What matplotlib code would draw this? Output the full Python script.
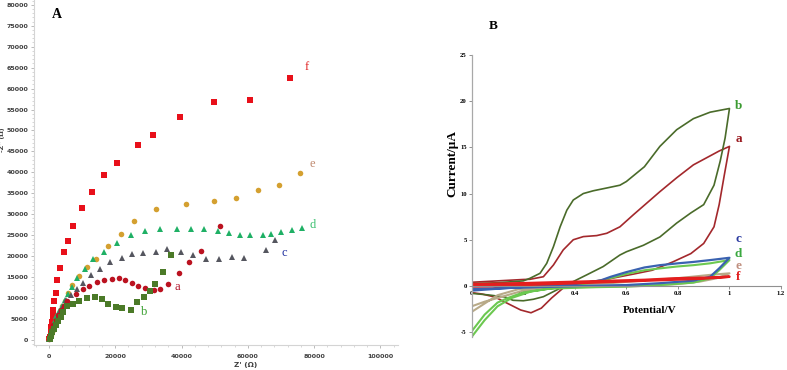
import matplotlib
matplotlib.use("Agg")
import matplotlib.pyplot as plt
from matplotlib.ticker import MultipleLocator

# --- Panel A: Nyquist data (Z', -Z'' in ohm) ---
f_zre = [100, 300, 500, 700, 900, 1100, 1300, 1600, 2000, 2500, 3400, 4600, 5800, 7400,
         10100, 13000, 16700, 20400, 27000, 31400, 39600, 49900, 60700, 72800]
f_zim = [200, 800, 2000, 3200, 4400, 5600, 7200, 9200, 11300, 14300, 17100, 21000, 23700, 27200,
         31400, 35400, 39400, 42300, 46500, 49000, 53200, 56700, 57200, 62500]

e_zre = [100, 500, 1100, 1800, 2500, 3300, 4000, 4800, 5800, 6900, 9100, 11500, 14300, 17800,
         21700, 25700, 32400, 41400, 49900, 56500, 63200, 69300, 75800]
e_zim = [400, 1200, 2400, 4000, 5600, 7000, 8100, 9200, 11100, 13000, 15300, 17500, 19400, 22500,
         25300, 28500, 31300, 32500, 33100, 33800, 35700, 36900, 39800]

d_zre = [100, 400, 900, 1500, 2200, 3000, 3900, 4800, 5800, 6900, 8600, 10900, 13400, 16600,
         20500, 24700, 29000, 33600, 38600, 42800, 46800, 50900, 54300, 57500, 60600, 64500,
         67000, 70100, 73300, 76300]
d_zim = [300, 1300, 2700, 4200, 5600, 6900, 8100, 9600, 11000, 12700, 14700, 17000, 19300, 21000,
         23100, 25100, 26000, 26600, 26600, 26600, 26400, 26000, 25500, 25100, 25000, 25000,
         25200, 25700, 26300, 26700]

c_zre = [300, 800, 1500, 2300, 3300, 4200, 5300, 6600, 8400, 10300, 12600, 15300, 18400, 21900,
         25000, 28500, 32300, 35600, 39900, 43400, 47500, 51200, 55100, 58900, 65500, 68200]
c_zim = [600, 2000, 3600, 5200, 6800, 8100, 9600, 10700, 12200, 13700, 15400, 16900, 18600, 19500,
         20500, 20700, 21000, 21800, 20900, 20300, 19400, 19300, 19800, 19600, 21500, 23900]

a_zre = [100, 400, 800, 1300, 2000, 2800, 3700, 4600, 5600, 8200, 10200, 12200, 14400, 16700,
         18900, 21100, 23000, 25000, 27000, 29000, 31600, 33400, 36000, 39100, 42300, 45900, 51700]
a_zim = [300, 1200, 2300, 3500, 4800, 6000, 7100, 8200, 9400, 10900, 12200, 12900, 13800, 14300,
         14600, 14700, 14400, 13700, 12900, 12300, 12000, 12200, 13300, 15900, 18700, 21300, 27100]

b_zre = [200, 500, 900, 1400, 2000, 2700, 3500, 4300, 5600, 7300, 9100, 11400, 13900, 15900,
         17900, 20100, 22100, 24800, 26500, 28600, 30600, 32000, 34400, 36900]
b_zim = [300, 1000, 1800, 2700, 3600, 4500, 5500, 6600, 8000, 8700, 9400, 10100, 10200, 9700,
         8700, 7900, 7600, 7200, 9000, 10200, 11700, 13300, 16200, 20300]

# --- Panel B: cyclic voltammograms (V, uA), forward then reverse ---
a_v = [0, 0.1, 0.2, 0.226, 0.278, 0.317, 0.355, 0.394, 0.433, 0.485, 0.524, 0.575, 0.627, 0.73,
       0.795, 0.86, 0.92, 0.96, 1.0,
       0.98, 0.96, 0.94, 0.90, 0.85, 0.78, 0.70, 0.63, 0.52, 0.42, 0.36, 0.31, 0.27, 0.23, 0.19,
       0.14, 0.09, 0.04, 0.0]
a_i = [0.4, 0.55, 0.7, 0.72, 1.0, 2.27, 3.9, 5.0, 5.34, 5.45, 5.7, 6.4, 7.7, 10.2,
       11.7, 13.1, 14.0, 14.6, 15.1,
       12.0, 8.8, 6.4, 4.6, 3.5, 2.6, 1.7, 1.3, 0.7, 0.3, -0.1, -1.3, -2.4, -2.9, -2.6,
       -1.9, -1.2, -0.87, -0.72]

b_v = [0, 0.1, 0.2, 0.226, 0.265, 0.291, 0.317, 0.343, 0.369, 0.394, 0.433, 0.472, 0.524, 0.575,
       0.60, 0.67, 0.73, 0.795, 0.86, 0.925, 1.0,
       0.983, 0.964, 0.94, 0.90, 0.85, 0.795, 0.73, 0.666, 0.60, 0.575, 0.51, 0.446, 0.381, 0.33,
       0.278, 0.239, 0.20, 0.16, 0.13, 0.065, 0]
b_i = [0.25, 0.35, 0.55, 0.83, 1.37, 2.45, 4.25, 6.4, 8.2, 9.3, 10.0, 10.3, 10.6, 10.9,
       11.3, 12.9, 15.1, 16.9, 18.1, 18.8, 19.2,
       16.0, 13.5, 10.9, 8.8, 7.9, 6.8, 5.3, 4.4, 3.7, 3.35, 2.1, 1.2, 0.3, -0.43,
       -1.16, -1.44, -1.6, -1.55, -1.2, -0.97, -0.8]

c_v = [0, 0.2, 0.4, 0.5, 0.54, 0.6, 0.67, 0.73, 0.8, 0.86, 0.925, 1.0,
       0.96, 0.925, 0.86, 0.73, 0.6, 0.5, 0.3, 0.1, 0]
c_i = [-0.5, -0.1, 0.2, 0.6, 1.0, 1.5, 2.0, 2.25, 2.45, 2.6, 2.8, 3.05,
       1.9, 1.0, 0.57, 0.3, 0.1, 0.05, -0.1, -0.25, -0.3]

d_v = [0, 0.05, 0.10, 0.155, 0.23, 0.31, 0.39, 0.47, 0.537, 0.6, 0.67, 0.73, 0.795, 0.86, 0.925, 1.0,
       0.96, 0.925, 0.86, 0.73, 0.6, 0.45, 0.3, 0.2, 0.14, 0.1, 0.05, 0]
d_i = [-5.5, -3.7, -2.2, -1.3, -0.6, -0.25, 0.0, 0.4, 0.83, 1.3, 1.7, 1.9, 2.1, 2.25, 2.45, 2.8,
       1.7, 0.83, 0.36, 0.1, -0.07, -0.15, -0.3, -0.7, -1.3, -1.8, -3.1, -4.9]

e_v = [0, 0.05, 0.10, 0.18, 0.29, 0.4, 0.537, 0.67, 0.795, 0.925, 1.0,
       0.95, 0.885, 0.795, 0.67, 0.5, 0.3, 0.2, 0.1, 0.05, 0]
e_i = [-2.8, -1.9, -1.0, -0.36, 0.0, 0.15, 0.3, 0.6, 0.83, 1.2, 1.37,
       0.83, 0.47, 0.2, 0.0, -0.1, -0.2, -0.5, -1.3, -1.7, -2.2]

f_v = [0, 0.2, 0.4, 0.537, 0.67, 0.795, 0.925, 1.0, 0.9, 0.7, 0.5, 0.3, 0.1, 0]
f_i = [0.2, 0.3, 0.45, 0.55, 0.66, 0.83, 0.9, 1.0, 0.8, 0.6, 0.4, 0.2, 0.0, -0.05]

fig = plt.figure(figsize=(7.87, 3.70), dpi=100)

# ================= Panel A =================
axA = fig.add_axes([0.0432, 0.0676, 0.463, 0.932])
nyq = [
    (f_zre, f_zim, "s", "#e8101a"),
    (e_zre, e_zim, "o", "#d4a030"),
    (d_zre, d_zim, "^", "#1fb065"),
    (c_zre, c_zim, "^", "#55565f"),
    (a_zre, a_zim, "o", "#bb1220"),
    (b_zre, b_zim, "s", "#4b7a28"),
]
for xs, ys, m, col in nyq:
    axA.plot(xs, ys, linestyle="none", marker=m, markersize=4.0, color=col, markeredgewidth=0)

axA.set_xlim(-4500, 105400)
axA.set_ylim(-1200, 81100)
axA.xaxis.set_major_locator(MultipleLocator(20000))
axA.xaxis.set_minor_locator(MultipleLocator(4000))
axA.yaxis.set_major_locator(MultipleLocator(5000))
axA.yaxis.set_minor_locator(MultipleLocator(1000))
for s in ["top", "right"]:
    axA.spines[s].set_visible(False)
for s in ["left", "bottom"]:
    axA.spines[s].set_color("#d4d4d4")
    axA.spines[s].set_linewidth(0.8)
axA.tick_params(which="major", length=2.5, width=0.6, color="#b0b0b0", labelsize=4.6,
                labelcolor="#404040", pad=1.5)
axA.tick_params(which="minor", length=1.5, width=0.5, color="#c8c8c8")
axA.tick_params(axis="x", pad=4)
for lab in axA.get_xticklabels() + axA.get_yticklabels():
    lab.set_fontweight("bold")
fig.text(246 / 787, 1 - 365 / 370, "Z' (\u03a9)", fontsize=5.2, fontweight="bold", color="#404040",
         ha="center", va="center")
fig.text(3 / 787, 1 - 140 / 370, "-Z'' (\u03a9)", fontsize=4.6, fontweight="bold", color="#404040",
         ha="center", va="center", rotation=90)

labA = [("f", 77900, 65200, "#e02020"), ("e", 79500, 42000, "#c08a70"),
        ("d", 79500, 27400, "#3cc070"), ("c", 71000, 20800, "#2030a0"),
        ("a", 38700, 12600, "#b01028"), ("b", 28700, 6700, "#3aa030")]
for t, x, y, col in labA:
    axA.text(x, y, t, color=col, fontsize=9, family="Liberation Serif", ha="center", va="center")
fig.text(57 / 787, 1 - 15 / 370, "A", fontsize=10, fontweight="bold", family="Liberation Serif",
         ha="center", va="center")

# ================= Panel B =================
axB = fig.add_axes([0.5994, 0.0897, 0.393, 0.762])
cvs = [
    (a_v, a_i, "#a3282c", 1.2),
    (b_v, b_i, "#4a6b2a", 1.2),
    (e_v, e_i, "#b8aa88", 1.5),
    (d_v, d_i, "#6cc850", 1.5),
    (c_v, c_i, "#3a62b0", 1.6),
    (f_v, f_i, "#e41e1e", 1.8),
]
for vs, cur, col, lw in cvs:
    axB.plot(vs, cur, color=col, linewidth=lw, solid_joinstyle="round")

axB.set_xlim(0, 1.2)
axB.set_ylim(-5.5, 25)
axB.spines["top"].set_visible(False)
axB.spines["right"].set_visible(False)
axB.spines["bottom"].set_position(("data", 0))
axB.spines["left"].set_color("#a8a8a8")
axB.spines["bottom"].set_color("#909090")
axB.spines["left"].set_linewidth(0.9)
axB.spines["bottom"].set_linewidth(0.8)
axB.tick_params(length=2, width=0.6, color="#808080", labelsize=4.8, pad=1.5)
axB.set_xticks([0, 0.2, 0.4, 0.6, 0.8, 1.0, 1.2])
axB.set_xticklabels(["0", "0.2", "0.4", "0.6", "0.8", "1", "1.2"])
axB.set_yticks([-5, 0, 5, 10, 15, 20, 25])
axB.set_yticklabels(["-5", "0", "5", "10", "15", "20", "25"])
for lab in axB.get_xticklabels() + axB.get_yticklabels():
    lab.set_fontweight("bold")
    lab.set_family("Liberation Serif")
axB.text(-0.064, 0.613, "Current/\u00b5A", transform=axB.transAxes, rotation=90, fontsize=9.5,
         fontweight="bold", family="Liberation Serif", ha="center", va="center")
axB.text(0.576, 0.095, "Potential/V", transform=axB.transAxes, fontsize=8,
         fontweight="bold", family="Liberation Serif", ha="center", va="center")

labB = [("b", 19.5, "#3a9a30"), ("a", 15.9, "#9a1a20"), ("c", 5.1, "#2a3aa0"),
        ("d", 3.5, "#3aa840"), ("e", 2.2, "#c09080"), ("f", 0.94, "#e02020")]
for t, y, col in labB:
    axB.text(1.035, y, t, color=col, fontsize=9.5, fontweight="bold", family="Liberation Serif",
             ha="center", va="center")
fig.text(493 / 787, 1 - 26 / 370, "B", fontsize=9.5, fontweight="bold", family="Liberation Serif",
         ha="center", va="center")

fig.savefig("out.png", dpi=100)
